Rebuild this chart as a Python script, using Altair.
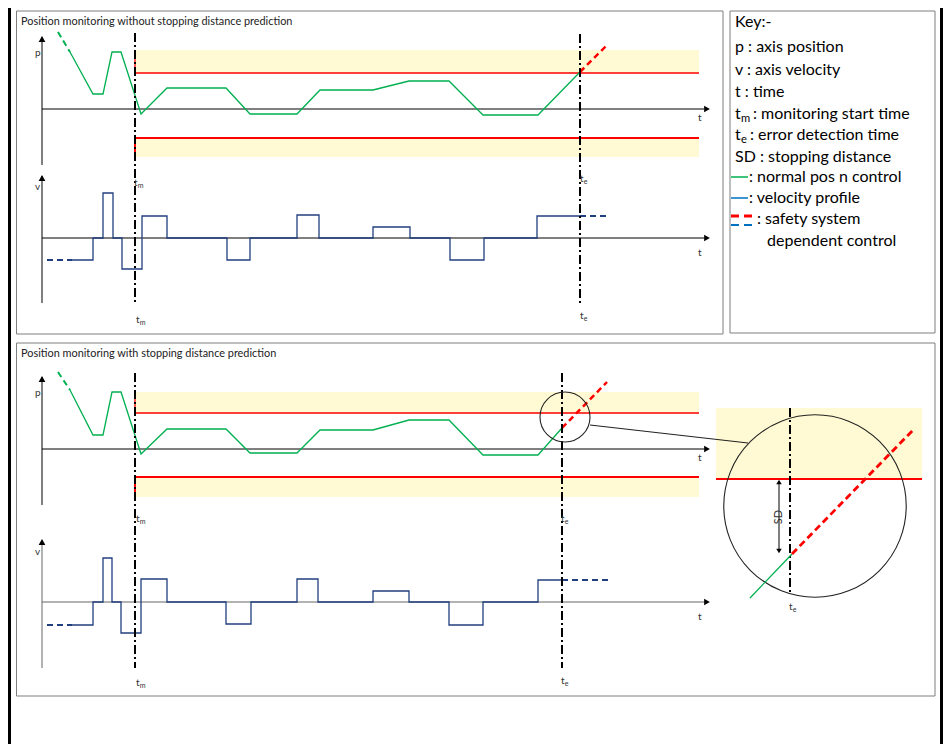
import altair as alt
import pandas as pd

# ---------------- data ----------------
# position traces: time (px along t axis) and position relative to the t axis
TOP_POS_T = [70, 93, 103, 112, 121, 141, 167, 226, 250, 297, 320, 373, 409, 449, 483, 538, 580]
TOP_POS_P = [57, 15, 15, 57, 57, -5, 21, 21, -5, -5, 19, 19, 28, 28, -6, -6, 37]
TOP_PRE_T = [58, 70]
TOP_PRE_P = [77, 57]
TOP_ERR_T = [580, 607]
TOP_ERR_P = [37, 64]

BOT_POS_T = [70, 93, 103, 112, 121, 141, 167, 226, 250, 297, 320, 373, 409, 449, 483, 538, 562]
BOT_POS_P = [59, 14, 14, 57, 57, -5, 20, 20, -4, -4, 19, 19, 29, 29, -6, -6, 21]
BOT_PRE_T = [58, 70]
BOT_PRE_P = [77, 59]
BOT_ERR_T = [562, 607]
BOT_ERR_P = [21, 67]

# velocity step profiles
TOP_VEL_T = [72, 93, 103, 113, 122, 142, 167, 227, 250, 297, 319, 373, 410, 450, 484, 537, 580]
TOP_VEL_V = [-22, 0, 45, 0, -31, 22, 0, -22, 0, 23, 0, 11, 0, -22, 0, 22, 22]
TOP_VPRE_T = [47, 72]
TOP_VPRE_V = [-22, -22]
TOP_VPOST_T = [580, 607]
TOP_VPOST_V = [22, 22]

BOT_VEL_T = [72, 93, 103, 112, 121, 141, 167, 226, 251, 297, 318, 373, 409, 449, 483, 538, 562]
BOT_VEL_V = [-23, 0, 44, 0, -31, 23, 0, -22, 0, 23, 0, 11, 0, -23, 0, 22, 22]
BOT_VPRE_T = [47, 72]
BOT_VPRE_V = [-23, -23]
BOT_VPOST_T = [562, 608]
BOT_VPOST_V = [22, 22]

# monitoring limits (relative to t axis): limit line, outer edge of band
TOP_LIM_UP = [36, 59]
TOP_LIM_LO = [-29, -48]
BOT_LIM_UP = [36, 57]
BOT_LIM_LO = [-28, -48]

# zoomed inset (stopping distance detail)
ZOOM_GREEN_X = [750, 792]
ZOOM_GREEN_Y = [598, 554]
ZOOM_RED_X = [792, 915]
ZOOM_RED_Y = [554, 428]

KEY_LINES = [
    "Key:-", "p : axis position", "v : axis velocity", "t : time",
    "SD : stopping distance",
]

# ---------------- layout constants ----------------
TOP_P_BASE, TOP_V_BASE = 109, 238
BOT_P_BASE, BOT_V_BASE = 449, 602
TM_X, TE_TOP, TE_BOT = 135, 580, 562
AX_X, AX_END = 42, 704
LIM_END = 699

GREEN = "#00B050"
RED = "#FF0000"
NAVY = "#203F7F"
BLUE = "#0070C0"
YELLOW = "#FFF6A8"
FONT = "Lato"

X = alt.X("x:Q", scale=alt.Scale(domain=[8, 943], nice=False, zero=False), axis=None)
Y = alt.Y("y:Q", scale=alt.Scale(domain=[8, 744], nice=False, zero=False, reverse=True), axis=None)


def pts(xs, ys, base=None):
    yy = [base - v for v in ys] if base is not None else list(ys)
    return pd.DataFrame({"x": list(xs), "y": yy, "o": list(range(len(xs)))})


def path(df, color, width, dash=None, interp="linear"):
    kw = dict(color=color, strokeWidth=width, interpolate=interp)
    if dash:
        kw["strokeDash"] = dash
    return alt.Chart(df).mark_line(**kw).encode(x=X, y=Y, order="o:Q")


def rule(x1, y1, x2, y2, color="black", width=1, dash=None):
    kw = dict(color=color, strokeWidth=width)
    if dash:
        kw["strokeDash"] = dash
    df = pd.DataFrame({"x": [x1], "y": [y1], "x2": [x2], "y2": [y2]})
    return alt.Chart(df).mark_rule(**kw).encode(x=X, y=Y, x2="x2:Q", y2="y2:Q")


def band(x1, x2, y1, y2):
    df = pd.DataFrame({"x": [x1], "y": [y1], "x2": [x2], "y2": [y2]})
    return alt.Chart(df).mark_rect(color=YELLOW, opacity=0.5).encode(x=X, y=Y, x2="x2:Q", y2="y2:Q")


def box(x1, x2, y1, y2, color="#7F7F7F", width=1):
    df = pd.DataFrame({"x": [x1], "y": [y1], "x2": [x2], "y2": [y2]})
    return alt.Chart(df).mark_rect(fill=None, stroke=color, strokeWidth=width).encode(
        x=X, y=Y, x2="x2:Q", y2="y2:Q")


def blackbar(x1, x2, y1, y2):
    df = pd.DataFrame({"x": [x1], "y": [y1], "x2": [x2], "y2": [y2]})
    return alt.Chart(df).mark_rect(color="black").encode(x=X, y=Y, x2="x2:Q", y2="y2:Q")


def tri(x, y, shape, size=45, color="black"):
    df = pd.DataFrame({"x": [x], "y": [y]})
    return alt.Chart(df).mark_point(shape=shape, filled=True, size=size, color=color, opacity=1).encode(x=X, y=Y)


def txt(x, y, s, size=10, color="black", angle=0, align="left"):
    df = pd.DataFrame({"x": [x], "y": [y], "s": [s]})
    kw = dict(align=align, baseline="middle", font=FONT, fontSize=size, color=color)
    if angle:
        kw["angle"] = angle
    return alt.Chart(df).mark_text(**kw).encode(x=X, y=Y, text="s:N")


def sub(x, y, main, s, size=10, color="#333333"):
    return [txt(x, y, main, size, color), txt(x + size * 0.38, y + size * 0.3, s, size * 0.7, color)]


DASHDOT = [9, 3, 2, 3]
layers = []

# frame & panel borders
layers += [blackbar(8, 11, 8, 744), blackbar(940, 943, 8, 744)]
layers += [box(16.5, 723, 11, 334), box(730, 935, 11, 333), box(16.5, 935, 343, 696)]

# titles
layers += [txt(21, 22, "Position monitoring without stopping distance prediction", 10.9, "#222222"),
           txt(21, 354, "Position monitoring with stopping distance prediction", 10.9, "#222222")]

# yellow hatched bands
for base, up, lo in [(TOP_P_BASE, TOP_LIM_UP, TOP_LIM_LO), (BOT_P_BASE, BOT_LIM_UP, BOT_LIM_LO)]:
    layers += [band(TM_X, LIM_END, base - up[1], base - up[0]),
               band(TM_X, LIM_END, base - lo[0], base - lo[1])]
layers.append(band(716, 922, 408, 479))

# axes
for pb, vb, ptop, pbot, vtop, vbot, vcol in [
        (TOP_P_BASE, TOP_V_BASE, 37, 165, 176, 303, "black"),
        (BOT_P_BASE, BOT_V_BASE, 377, 505, 540, 668, "#666666")]:
    layers += [rule(AX_X, ptop, AX_X, pbot), rule(AX_X, vtop, AX_X, vbot, vcol),
               rule(AX_X, pb, AX_END, pb), rule(AX_X, vb, AX_END, vb, vcol),
               tri(AX_X, ptop + 2, "triangle-up"), tri(AX_X, vtop + 2, "triangle-up"),
               tri(AX_END + 3, pb, "triangle-right"), tri(AX_END + 3, vb, "triangle-right")]

# limit lines (red)
for base, up, lo in [(TOP_P_BASE, TOP_LIM_UP, TOP_LIM_LO), (BOT_P_BASE, BOT_LIM_UP, BOT_LIM_LO)]:
    layers.append(path(pts([TM_X, TM_X, LIM_END], [up[1], up[0], up[0]], base), RED, 1.3))
    layers.append(path(pts([TM_X, TM_X, LIM_END], [lo[1], lo[0], lo[0]], base), RED, 2))
layers.append(rule(716, 479, 922, 479, RED, 2.2))

# position traces
layers += [
    path(pts(TOP_PRE_T, TOP_PRE_P, TOP_P_BASE), GREEN, 2, [6, 4]),
    path(pts(TOP_POS_T, TOP_POS_P, TOP_P_BASE), GREEN, 1.3),
    path(pts(TOP_ERR_T, TOP_ERR_P, TOP_P_BASE), RED, 2.5, [6, 4]),
    path(pts(BOT_PRE_T, BOT_PRE_P, BOT_P_BASE), GREEN, 2, [6, 4]),
    path(pts(BOT_POS_T, BOT_POS_P, BOT_P_BASE), GREEN, 1.3),
    path(pts(BOT_ERR_T, BOT_ERR_P, BOT_P_BASE), RED, 2.5, [6, 4]),
]

# velocity profiles
layers += [
    path(pts(TOP_VPRE_T, TOP_VPRE_V, TOP_V_BASE), NAVY, 2, [6, 4]),
    path(pts(TOP_VEL_T, TOP_VEL_V, TOP_V_BASE), NAVY, 1.3, interp="step-after"),
    path(pts(TOP_VPOST_T, TOP_VPOST_V, TOP_V_BASE), NAVY, 2, [6, 4]),
    path(pts(BOT_VPRE_T, BOT_VPRE_V, BOT_V_BASE), NAVY, 2, [6, 4]),
    path(pts(BOT_VEL_T, BOT_VEL_V, BOT_V_BASE), NAVY, 1.3, interp="step-after"),
    path(pts(BOT_VPOST_T, BOT_VPOST_V, BOT_V_BASE), NAVY, 2, [6, 4]),
]

# dash-dot time markers
layers += [rule(TM_X, 33, TM_X, 305, width=2, dash=DASHDOT),
           rule(TE_TOP, 34, TE_TOP, 305, width=2, dash=DASHDOT),
           rule(TM_X, 373, TM_X, 668, width=2, dash=DASHDOT),
           rule(TE_BOT, 373, TE_BOT, 668, width=2, dash=DASHDOT),
           rule(790, 408, 790, 592, width=2, dash=DASHDOT)]

# zoom circle and inset details
circ = pd.DataFrame({"x": [565, 815], "y": [417, 506], "d": [2500, 33300]})
layers.append(alt.Chart(circ).mark_point(shape="circle", filled=False, color="#222222", strokeWidth=1.1, opacity=1)
              .encode(x=X, y=Y, size=alt.Size("d:Q", scale=None, legend=None)))
layers.append(rule(590, 425, 748, 443, "#222222", 1.1))
layers += [path(pts(ZOOM_GREEN_X, ZOOM_GREEN_Y), GREEN, 1.3),
           path(pts(ZOOM_RED_X, ZOOM_RED_Y), RED, 2.8, [7, 4]),
           rule(779, 483, 779, 550), tri(779, 482, "triangle-up", 30), tri(779, 551, "triangle-down", 30),
           txt(779, 517, "SD", 11, "#333333", angle=270, align="center")]

# axis letters
for x, y, s in [(35, 53, "p"), (35, 187, "v"), (35, 393, "p"), (35, 552, "v"),
                (698, 118, "t"), (698, 253, "t"), (698, 458, "t"), (698, 617, "t")]:
    layers.append(txt(x, y, s, 10, "#333333"))

# tm / te labels
for x, y, s in [(134, 183, "m"), (136, 320, "m"), (136, 519, "m"), (136, 683, "m"),
                (580, 179, "e"), (580, 316, "e"), (561, 519, "e"), (561, 681, "e"), (789, 607, "e")]:
    layers += sub(x, y, "t", s, 10)

# key
KS = 16
layers += [txt(735, 22, KEY_LINES[0], KS), txt(735, 47, KEY_LINES[1], KS),
           txt(735, 70, KEY_LINES[2], KS), txt(735, 92, KEY_LINES[3], KS)]
layers += sub(735, 114, "t", "m", KS, "black")
layers.append(txt(753, 114, ":  monitoring start time", KS))
layers += sub(735, 135, "t", "e", KS, "black")
layers.append(txt(750, 135, ":  error detection time", KS))
layers.append(txt(735, 157, KEY_LINES[4], KS))
layers += [rule(731, 177, 748, 177, GREEN, 1.5), txt(749, 177, ": normal pos n control", KS),
           rule(731, 198, 748, 198, BLUE, 1.5), txt(749, 198, ": velocity profile", KS),
           rule(731, 216, 757, 216, RED, 3, [8, 5]), rule(731, 225, 757, 225, BLUE, 2, [8, 5]),
           txt(757, 219, ": safety system", KS), txt(767, 241, "dependent control", KS)]

chart = alt.layer(*layers).properties(
    width=935, height=736, padding=0,
    autosize=alt.AutoSizeParams(type="none"),
    background="white",
).configure_view(strokeWidth=0)

chart.save("out.html", embed_options={"renderer": "svg", "actions": False})
